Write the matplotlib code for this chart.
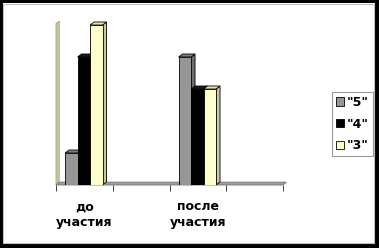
import matplotlib
matplotlib.use("Agg")
import matplotlib.pyplot as plt
from matplotlib.patches import Polygon, Rectangle, Patch

categories = ["до\nучастия", "", "после\nучастия", ""]
series_names = ['"5"', '"4"', '"3"']
values_5 = [10, 0, 40, 0]
values_4 = [40, 0, 30, 0]
values_3 = [50, 0, 30, 0]

face_colors = ["#969696", "#000000", "#FFFFCC"]
side_colors = ["#6e6e6e", "#000000", "#c8c898"]
top_colors = ["#808080", "#1a1a1a", "#e6e6b4"]

W, H = 379, 248
fig = plt.figure(figsize=(W / 100, H / 100), dpi=100)
fig.patch.set_facecolor("black")
fig.patches.append(Rectangle((3 / W, 5 / H), 372 / W, 240 / H, transform=fig.transFigure,
                             facecolor="white", edgecolor="none", zorder=-2))
fig.patches.append(Rectangle((3 / W, 5 / H), 371 / W, 239 / H, transform=fig.transFigure,
                             fill=False, edgecolor="#c0c0c0", linewidth=0.8, zorder=-1))

ax = fig.add_axes([56 / W, 63 / H, 227 / W, 160 / H])
ax.set_xlim(0, 4)
ax.set_ylim(0, 50)
ax.set_facecolor("none")
for s in ax.spines.values():
    s.set_visible(False)

# depth offsets in data units
dx = 4 / 57
dy = 3 / 3.2
bw = 0.22
offsets = [0.27, 0.49, 0.71]

# wall and floor
ax.add_patch(Polygon([(0, 0), (0, 50.5), (dx * 0.8, 51.2), (dx * 0.8, 0.7)],
                     closed=True, facecolor="#c8c8a0", edgecolor="#a0a080",
                     lw=0.6, clip_on=False, zorder=1))
ax.add_patch(Polygon([(0, 0), (4, 0), (4 + dx * 0.8, 0.9), (dx * 0.8, 0.9)],
                     closed=True, facecolor="#a0a0a0", edgecolor="#707070",
                     lw=0.6, clip_on=False, zorder=1))

all_vals = [values_5, values_4, values_3]
for si, vals in enumerate(all_vals):
    xs = [i + offsets[si] for i in range(len(categories))]
    for x, v in zip(xs, vals):
        if v <= 0:
            continue
        x0 = x - bw / 2
        x1 = x + bw / 2
        ax.add_patch(Polygon([(x1, 0), (x1 + dx, dy), (x1 + dx, v + dy), (x1, v)],
                             closed=True, facecolor=side_colors[si], edgecolor="black",
                             lw=0.6, zorder=2 + si, clip_on=False))
        ax.add_patch(Polygon([(x0, v), (x0 + dx, v + dy), (x1 + dx, v + dy), (x1, v)],
                             closed=True, facecolor=top_colors[si], edgecolor="black",
                             lw=0.6, zorder=2 + si, clip_on=False))
    ax.bar(xs, vals, width=bw, color=face_colors[si], edgecolor="black",
           linewidth=0.6, zorder=2 + si + 0.5)

ax.set_yticks([])
ax.set_xticks([0, 1, 2, 3, 4])
ax.set_xticklabels([])
ax.tick_params(axis="x", which="major", length=4, width=0.7, color="#404040", direction="out")
ax.set_xticks([0.5, 1.5, 2.5, 3.5], minor=True)
ax.set_xticklabels(categories, minor=True, fontsize=9, fontweight="bold", linespacing=1.3)
ax.tick_params(axis="x", which="minor", length=0, pad=11)

handles = [Patch(facecolor=c, edgecolor="black", linewidth=0.6) for c in face_colors]
leg = fig.legend(handles, series_names, loc="upper left",
                 bbox_to_anchor=(332 / W, 1 - 92 / H), frameon=True, fancybox=False,
                 prop={"size": 9, "weight": "bold"}, handlelength=0.65, handleheight=0.65,
                 handletextpad=0.25, labelspacing=0.7, borderpad=0.3, borderaxespad=0)
leg.get_frame().set_edgecolor("#808080")
leg.get_frame().set_linewidth(0.8)

fig.savefig("out.png", dpi=100, facecolor="black")
